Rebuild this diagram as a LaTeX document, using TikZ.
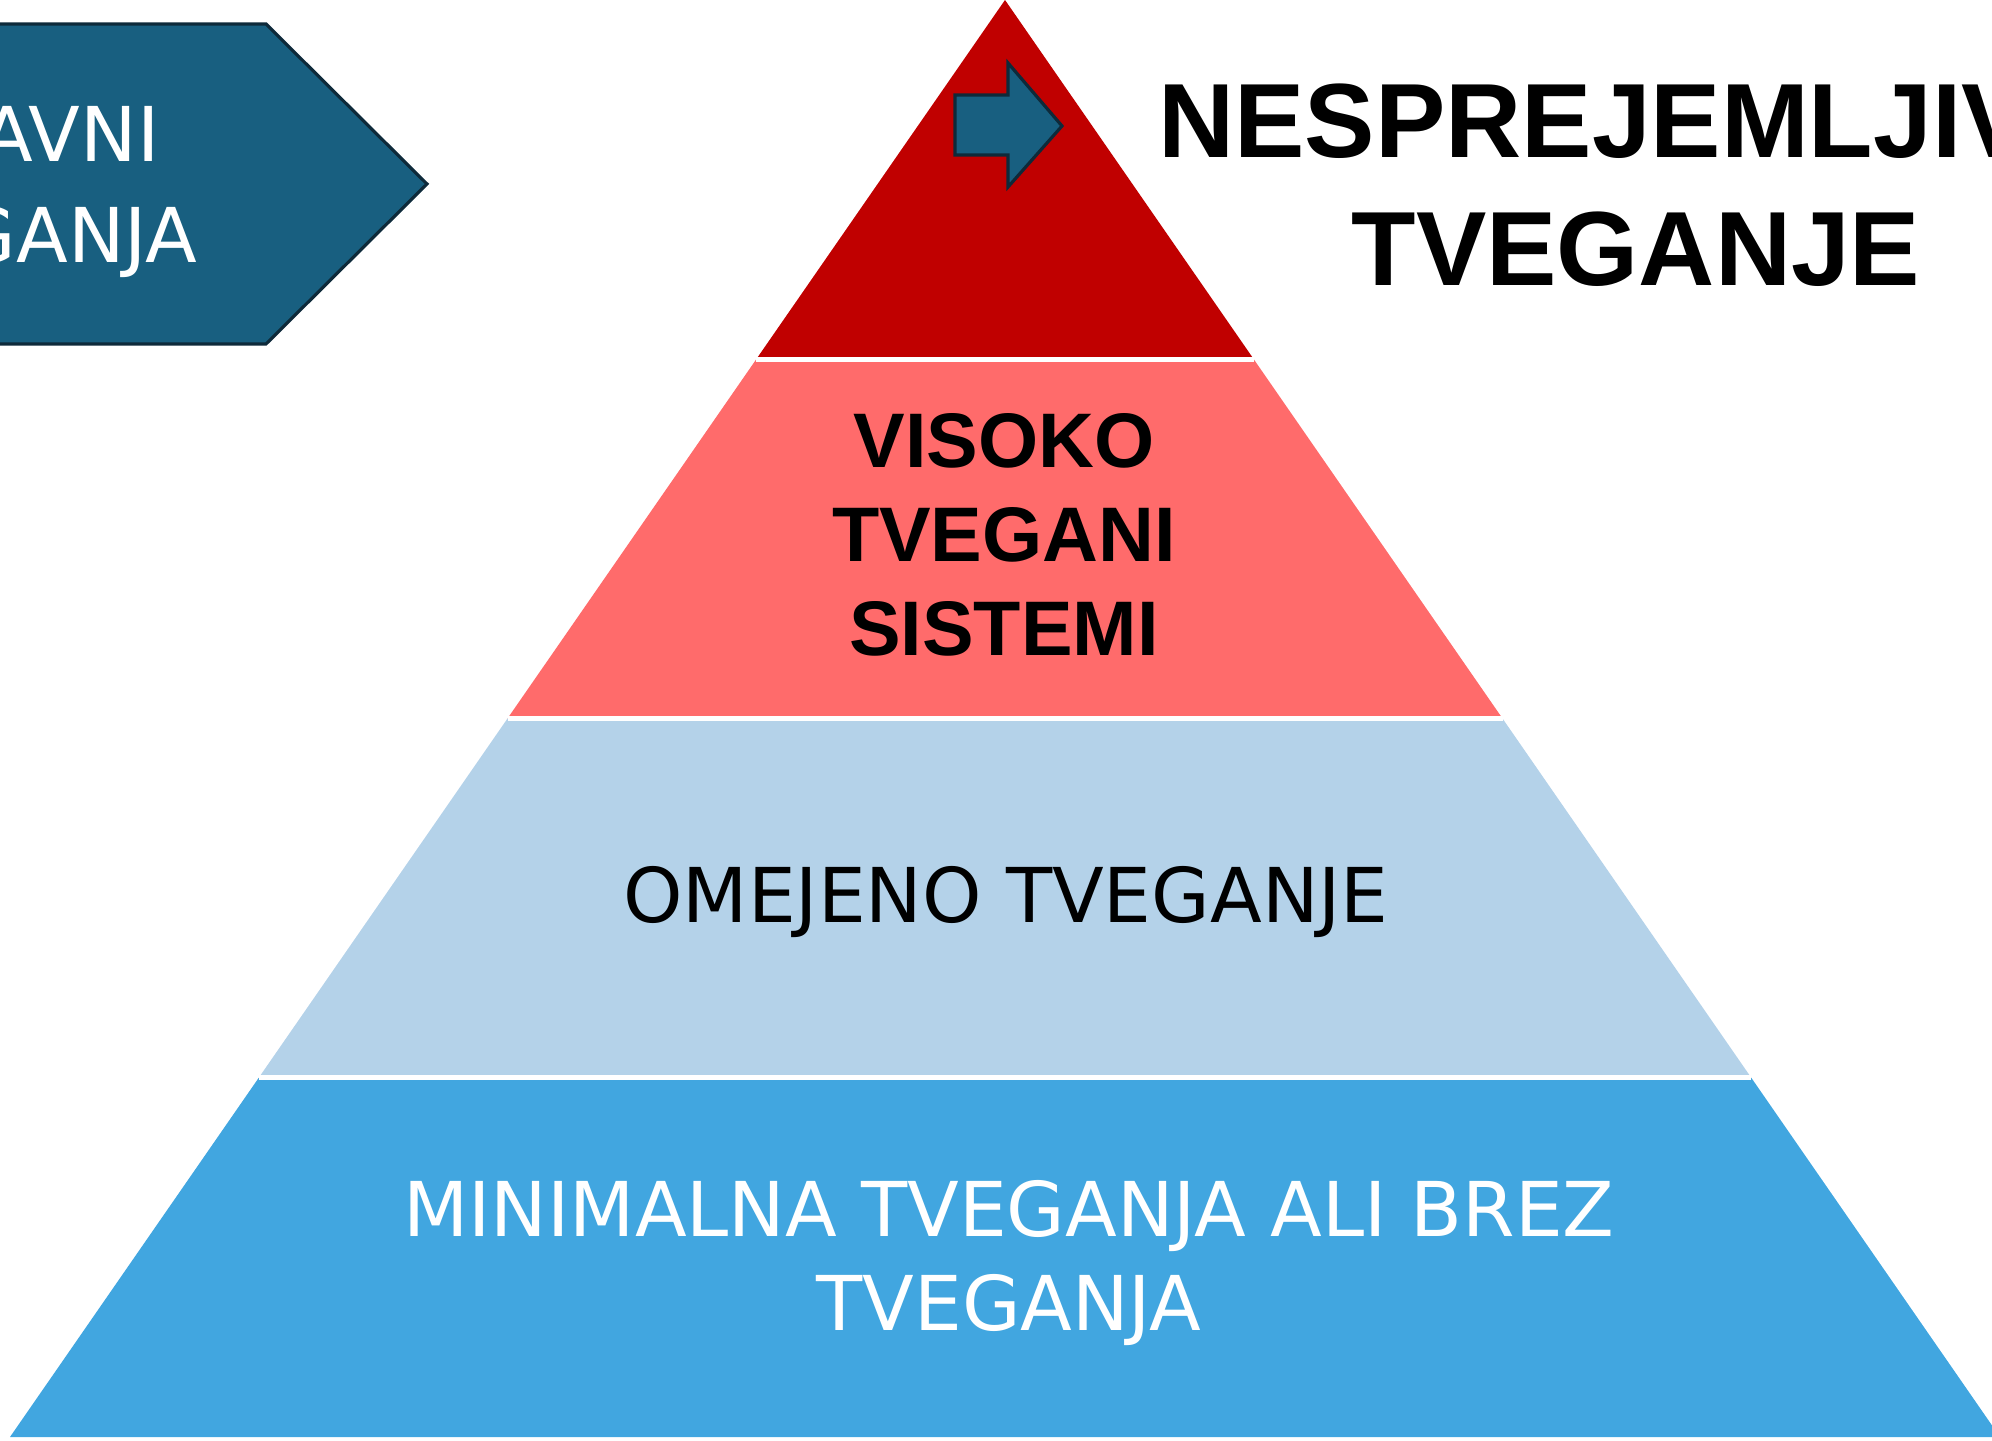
\documentclass[tikz,border=0pt]{standalone}
\usepackage{fontspec}
\setmainfont{DejaVu Sans}
\newfontfamily\arialbf{Liberation Sans}
\usetikzlibrary{calc,positioning}

\definecolor{rdark}{HTML}{C00000}
\definecolor{rlight}{HTML}{FF6B6B}
\definecolor{blight}{HTML}{B4D2E9}
\definecolor{bmid}{HTML}{41A6E0}
\definecolor{teal}{HTML}{185F80}
\definecolor{tealline}{HTML}{0E2A3A}

\begin{document}
\begin{tikzpicture}[x=0.01cm,y=-0.01cm]
\tikzstyle{lvl1}=[fill=rdark]
\tikzstyle{lvl2}=[fill=rlight]
\tikzstyle{lvl3}=[fill=blight]
\tikzstyle{lvl4}=[fill=bmid]
\tikzstyle{gap}=[white,line width=1.4pt]
\tikzstyle{bluearrow}=[fill=teal,draw=tealline,line width=0.9pt,line join=miter]
\tikzstyle{txtbold}=[inner sep=0pt,font=\arialbf\bfseries\fontsize{22}{26.7}\selectfont,align=center]
\tikzstyle{txtplain}=[inner sep=0pt,font=\fontsize{21.5}{26.7}\selectfont,align=center]
\tikzstyle{title}=[inner sep=0pt,font=\arialbf\bfseries\fontsize{30}{36.4}\selectfont,align=center]

\useasboundingbox (0,0) rectangle (1992,1440);
\clip (0,0) rectangle (1992,1440);

\coordinate (apex) at (1005,0);
\coordinate (bl) at (10,1437);
\coordinate (br) at (2000,1437);
\foreach \f/\n in {0.25/a,0.5/b,0.75/c}{
  \coordinate (l\n) at ($(apex)!\f!(bl)$);
  \coordinate (r\n) at ($(apex)!\f!(br)$);
}

\fill[lvl1] (apex) -- (la) -- (ra) -- cycle;
\fill[lvl2] (la) -- (lb) -- (rb) -- (ra) -- cycle;
\fill[lvl3] (lb) -- (lc) -- (rc) -- (rb) -- cycle;
\fill[lvl4] (lc) -- (bl) -- (br) -- (rc) -- cycle;
\draw[gap] (la) -- (ra);
\draw[gap] (lb) -- (rb);
\draw[gap] (lc) -- (rc);

\draw[bluearrow] (-10,24) -- (266,24) -- (427,184) -- (266,344) -- (-10,344) -- cycle;
\draw[bluearrow] (955,95) -- (1008,95) -- (1008,63) -- (1062,126) -- (1008,187)
  -- (1008,155) -- (955,155) -- cycle;

\node[txtplain,white,anchor=base east] (left1) at (160,162) {AVNI};
\node[txtplain,white,anchor=base east] (left2) at (198,263) {GANJA};

\node[title,anchor=north] (unacc) at (1636,83) {NESPREJEMLJIVO\\TVEGANJE};
\node[txtbold,anchor=north] (high) at (1004,413) {VISOKO\\TVEGANI\\SISTEMI};
\node[txtplain,anchor=base] (limited) at (1006,922) {OMEJENO TVEGANJE};
\node[txtplain,white,anchor=north] (minimal) at (1009,1180) {MINIMALNA TVEGANJA ALI BREZ\\TVEGANJA};
\end{tikzpicture}
\end{document}
